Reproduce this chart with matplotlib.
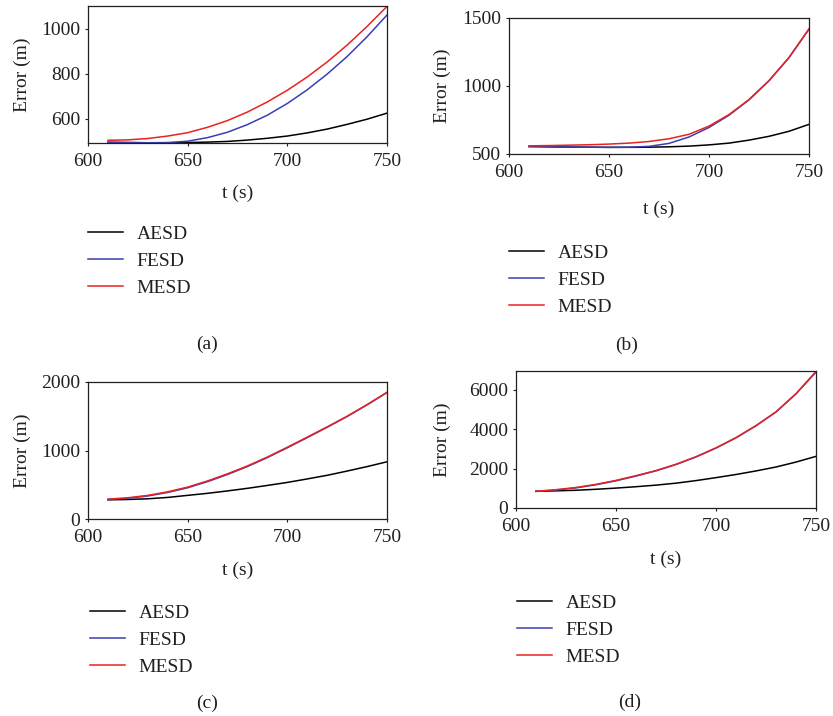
import matplotlib
matplotlib.use("Agg")
import matplotlib.pyplot as plt

plt.rcParams['font.family'] = ['Liberation Serif', 'DejaVu Serif']
txt = '#231f20'

# tiempo (s)
t = [610, 620, 630, 640, 650, 660, 670, 680, 690, 700, 710, 720, 730, 740, 750]
series_names = ['AESD', 'FESD', 'MESD']

# (a)
a_aesd = [495, 494, 493, 493, 494, 496, 499, 505, 513, 523, 537, 554, 575, 598, 625]
a_fesd = [495, 494, 493, 494, 500, 516, 540, 574, 616, 668, 729, 799, 877, 965, 1062]
a_mesd = [504, 506, 512, 523, 538, 562, 592, 630, 675, 727, 786, 853, 928, 1011, 1100]

# (b)
b_aesd = [555, 553, 551, 550, 549, 549, 550, 553, 558, 567, 580, 602, 630, 667, 718]
b_fesd = [555, 553, 551, 550, 549, 550, 556, 578, 625, 695, 785, 898, 1038, 1208, 1418]
b_mesd = [560, 562, 565, 568, 573, 580, 592, 612, 645, 705, 790, 900, 1040, 1210, 1420]

# (c)
c_aesd = [280, 285, 295, 315, 345, 375, 410, 448, 490, 534, 585, 638, 700, 765, 835]
c_fesd = [285, 302, 336, 388, 456, 546, 650, 766, 897, 1040, 1188, 1340, 1496, 1666, 1846]
c_mesd = [290, 310, 345, 397, 466, 556, 660, 775, 905, 1048, 1195, 1345, 1500, 1670, 1850]

# (d)
d_aesd = [850, 870, 900, 950, 1010, 1080, 1160, 1260, 1390, 1540, 1700, 1880, 2080, 2330, 2620]
d_fesd = [840, 910, 1020, 1180, 1380, 1620, 1885, 2205, 2590, 3040, 3560, 4170, 4870, 5790, 6890]
d_mesd = [850, 930, 1040, 1200, 1400, 1640, 1900, 2220, 2600, 3050, 3570, 4180, 4880, 5800, 6930]

colores = ['#000000', '#3a3fb0', '#e8231f']

W, H = 833, 716
fig = plt.figure(figsize=(W / 100, H / 100), dpi=100)

# posiciones en pixeles: (izq, arriba, der, abajo), ylim, yticks, etiquetas
paneles = [
    dict(box=(88, 6, 387, 143), data=(a_aesd, a_fesd, a_mesd), ylim=(492, 1102),
         yticks=[600, 800, 1000], xlab_y=-0.365, ylab_x=-0.22,
         leg=(88, 233), tag=(207, 344), name='(a)'),
    dict(box=(509, 18, 809, 154), data=(b_aesd, b_fesd, b_mesd), ylim=(500, 1500),
         yticks=[500, 1000, 1500], xlab_y=-0.41, ylab_x=-0.222,
         leg=(509, 252), tag=(627, 345), name='(b)'),
    dict(box=(88, 382, 387, 519), data=(c_aesd, c_fesd, c_mesd), ylim=(0, 2000),
         yticks=[0, 1000, 2000], xlab_y=-0.372, ylab_x=-0.22,
         leg=(90, 612), tag=(207, 703), name='(c)'),
    dict(box=(516, 371, 816, 508), data=(d_aesd, d_fesd, d_mesd), ylim=(0, 6950),
         yticks=[0, 2000, 4000, 6000], xlab_y=-0.372, ylab_x=-0.245,
         leg=(517, 602), tag=(630, 702), name='(d)'),
]

fs = 14
for p in paneles:
    x0, y0, x1, y1 = p['box']
    ax = fig.add_axes([x0 / W, 1 - y1 / H, (x1 - x0) / W, (y1 - y0) / H])
    lines = []
    for vals, c, n in zip(p['data'], colores, series_names):
        ln, = ax.plot(t, vals, color=c, lw=1.1, label=n)
        lines.append(ln)
    ax.set_xlim(600, 750)
    ax.set_ylim(*p['ylim'])
    ax.set_xticks([600, 650, 700, 750])
    ax.set_yticks(p['yticks'])
    ax.tick_params(direction='out', length=2.5, width=0.8, colors=txt,
                   labelsize=fs, pad=3)
    ax.tick_params(axis='x', pad=5)
    for s in ax.spines.values():
        s.set_color(txt)
        s.set_linewidth(0.9)
    ax.set_xlabel('t (s)', fontsize=fs, color=txt)
    ax.set_ylabel('Error (m)', fontsize=fs, color=txt)
    ax.xaxis.set_label_coords(0.5, p['xlab_y'])
    ax.yaxis.set_label_coords(p['ylab_x'], 0.5)
    ax.yaxis.label.set_va('center')
    ax.xaxis.label.set_va('center')

    lx, ly = p['leg']
    leg = fig.legend(handles=lines, loc='upper left',
                     bbox_to_anchor=(lx / W, 1 - (ly - 8) / H),
                     frameon=False, fontsize=fs, handlelength=1.8,
                     handletextpad=0.7, labelspacing=0.5,
                     borderpad=0, borderaxespad=0)
    for tx in leg.get_texts():
        tx.set_color(txt)

    tx_, ty_ = p['tag']
    fig.text(tx_ / W, 1 - ty_ / H, p['name'], fontsize=fs, color=txt,
             ha='center', va='center')

fig.savefig('out.png', dpi=100)
